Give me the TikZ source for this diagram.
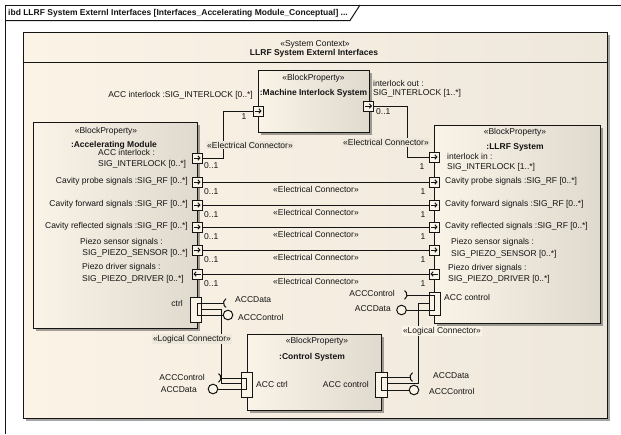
\documentclass[tikz,border=0pt]{standalone}
\usepackage{fontspec}
\setmainfont{Liberation Sans}
\usetikzlibrary{arrows.meta,shadows}
\definecolor{ctxA}{RGB}{251,243,230}
\definecolor{ctxB}{RGB}{238,231,219}
\definecolor{blkA}{RGB}{250,243,231}
\definecolor{blkB}{RGB}{224,217,206}
\definecolor{portfill}{RGB}{250,244,232}
\definecolor{ln}{RGB}{20,20,20}
\definecolor{txt}{RGB}{20,20,20}
\begin{document}
\begin{tikzpicture}[x=1pt,y=-1pt,
  every node/.style={inner sep=0pt,text=txt,font=\fontsize{8.5}{10}\selectfont},
  bold/.style={font=\fontsize{8.5}{10}\selectfont\bfseries},
  block/.style={draw=ln,line width=1pt,left color=blkA,right color=blkB,
    drop shadow={shadow xshift=3pt,shadow yshift=-3pt,fill=black,opacity=0.35}},
  ctxbox/.style={draw=ln,line width=1pt,left color=ctxA,right color=ctxB,
    drop shadow={shadow xshift=3pt,shadow yshift=-3pt,fill=black,opacity=0.35}},
  portbase/.style={draw=ln,fill=portfill,line width=1pt,minimum width=10pt,minimum height=10pt},
  portR/.style={portbase,path picture={\draw[line width=1pt,-{Straight Barb[length=2pt,width=4.5pt]}]
     ([xshift=-3.5pt]path picture bounding box.center) -- ([xshift=3.5pt]path picture bounding box.center);}},
  portL/.style={portbase,path picture={\draw[line width=1pt,-{Straight Barb[length=2pt,width=4.5pt]}]
     ([xshift=3.5pt]path picture bounding box.center) -- ([xshift=-3.5pt]path picture bounding box.center);}},
  cport/.style={portbase,minimum width=11pt,minimum height=25pt},
  conn/.style={draw=ln,line width=1pt},
  lab/.style={fill=ctxB,inner sep=1pt}
]
\useasboundingbox (0,0) rectangle (621,434);
% frame
\draw[ln,line width=1pt] (5,434) |- (621,5);
\draw[ln,line width=1pt] (5,20.5) -- (350,20.5) -- (360,5);
\node[bold,anchor=west] (title) at (8,13.5) {ibd LLRF System Externl Interfaces [Interfaces\_Accelerating Module\_Conceptual] ...};
% system context
\node[ctxbox,minimum width=584pt,minimum height=386pt] (ctx) at (315,225) {};
\draw[ln,line width=1pt] (ctx.west |- 0,62) -- (ctx.east |- 0,62);
\node (ctxst) at (315,44) {«System Context»};
\node[bold] (ctxnm) at (314,53.5) {LLRF System Externl Interfaces};
% blocks
\node[block,minimum width=111pt,minimum height=62pt] (mis) at (313.5,101) {};
\node (misst) at (313.5,78) {«BlockProperty»};
\node[bold] (misnm) at (313.5,93) {:Machine Interlock System};
\node[block,minimum width=164pt,minimum height=206pt] (acc) at (115,225) {};
\node (accst) at (106,131) {«BlockProperty»};
\node[bold] (accnm) at (114,145) {:Accelerating Module};
\node[block,minimum width=166pt,minimum height=198pt] (llrf) at (517,224) {};
\node (llrfst) at (515,132.5) {«BlockProperty»};
\node[bold] (llrfnm) at (515,147) {:LLRF System};
\node[block,minimum width=134pt,minimum height=76pt] (cs) at (314,372) {};
\node (csst) at (317,341) {«BlockProperty»};
\node[bold] (csnm) at (312,357) {:Control System};
% ports
\node[portR] (pmL) at (258,111) {};
\node[portR] (pmR) at (368.5,106) {};
\node[portR] (pa0) at (197,158) {};
\node[portR] (pa1) at (197,182) {};
\node[portR] (pa2) at (197,205) {};
\node[portR] (pa3) at (197,227) {};
\node[portR] (pa4) at (197,250) {};
\node[portL] (pa5) at (197,274) {};
\node[portR] (pl0) at (434,157) {};
\node[portR] (pl1) at (434,182) {};
\node[portR] (pl2) at (434,205) {};
\node[portR] (pl3) at (434,227) {};
\node[portR] (pl4) at (434,250) {};
\node[portL] (pl5) at (434,274) {};
\node[cport] (pctrl) at (195.5,309.5) {};
\node[cport,minimum height=23pt] (pllc) at (434.5,303.5) {};
\node[cport] (pcsL) at (246.5,385) {};
\node[cport,minimum width=12pt] (pcsR) at (381,385) {};
% port labels
\node[anchor=east] (tacc) at (253,95) {ACC interlock :SIG\_INTERLOCK [0..*]};
\node[anchor=west] (tio1) at (373,83) {interlock out :};
\node[anchor=west] (tio2) at (373,93) {SIG\_INTERLOCK [1..*]};
\node[anchor=west] (tai1) at (98,152.5) {ACC interlock :};
\node[anchor=west] (tai2) at (98,164) {SIG\_INTERLOCK [0..*]};
\node[anchor=east] (ta1) at (188,181) {Cavity probe signals :SIG\_RF [0..*]};
\node[anchor=east] (ta2) at (188,204.5) {Cavity forward signals :SIG\_RF [0..*]};
\node[anchor=east] (ta3) at (188,226) {Cavity reflected signals :SIG\_RF [0..*]};
\node[anchor=west] (ta4a) at (80,242) {Piezo sensor signals :};
\node[anchor=east] (ta4b) at (188,253.5) {SIG\_PIEZO\_SENSOR [0..*]};
\node[anchor=west] (ta5a) at (82,267) {Piezo driver signals :};
\node[anchor=west] (ta5b) at (82,279) {SIG\_PIEZO\_DRIVER [0..*]};
\node[anchor=east] (tctrl) at (183,303) {ctrl};
\node[anchor=west] (tli1) at (447,156.5) {interlock in :};
\node[anchor=west] (tli2) at (447,167) {SIG\_INTERLOCK [1..*]};
\node[anchor=west] (tl1) at (445,181) {Cavity probe signals :SIG\_RF [0..*]};
\node[anchor=west] (tl2) at (445,204.5) {Cavity forward signals :SIG\_RF [0..*]};
\node[anchor=west] (tl3) at (445,226) {Cavity reflected signals :SIG\_RF [0..*]};
\node[anchor=west] (tl4a) at (451,242) {Piezo sensor signals :};
\node[anchor=west] (tl4b) at (451,254) {SIG\_PIEZO\_SENSOR [0..*]};
\node[anchor=west] (tl5a) at (448,268) {Piezo driver signals :};
\node[anchor=west] (tl5b) at (448,279) {SIG\_PIEZO\_DRIVER [0..*]};
\node[anchor=west] (tllc) at (444,297) {ACC control};
\node[anchor=west] (tcsl) at (256,384) {ACC ctrl};
\node[anchor=east] (tcsr) at (369,384) {ACC control};
% electrical connectors
\draw[conn] (pa0.east) -- ++(21,0) |- (pmL.west);
\draw[conn] (pmR.east) -- ++(33.5,0) |- (pl0.west);
\foreach \i in {1,...,5} {\draw[conn] (pa\i.east) -- (pl\i.west);}
\node[lab] (ec0) at (250,145) {«Electrical Connector»};
\node[lab] (ec6) at (386,142.5) {«Electrical Connector»};
\foreach \i/\y in {1/182,2/205,3/227,4/250,5/274} {
  \node (ec\i) at (316,\y+7) {«Electrical Connector»};
  \node[anchor=west] (m\i) at (204,\y+10) {0..1};
  \node (n\i) at (423,\y+10) {1};
}
\node[anchor=west] (m0) at (204,165.5) {0..1};
\node (n0) at (244,117) {1};
\node[anchor=west] (m6) at (376,112) {0..1};
\node (n6) at (422,167) {1};
% interfaces at ctrl port
\draw[conn] (228.5,303) ++(120:5pt) arc[start angle=120,end angle=240,radius=5pt];
\draw[conn] (201,303) -- (223.5,303);
\draw[conn] (201,315) -- (223.2,315);
\draw[conn] (197,303) -- (201,303) (197,303) -- (197,315) -- (201,315);
\draw[conn,fill=portfill] (228,315) circle[radius=4.8pt];
\node[anchor=west] (t1) at (235,300) {ACCData};
\node[anchor=west] (t2) at (238,317) {ACCControl};
% interfaces at LLRF ACC control
\draw[conn] (402,295) ++(-60:5pt) arc[start angle=-60,end angle=60,radius=5pt];
\draw[conn] (407,295) -- (434.5,295) -- (434.5,310) -- (406.3,310);
\draw[conn,fill=portfill] (401.5,310) circle[radius=4.8pt];
\node[anchor=east] (t3) at (395,293) {ACCControl};
\node[anchor=east] (t4) at (391,309) {ACCData};
% interfaces at control system ACC ctrl
\draw[conn] (216,378) ++(-60:5pt) arc[start angle=-60,end angle=60,radius=5pt];
\draw[conn] (221,378) -- (246.5,378) -- (246.5,389) -- (217.8,389);
\draw[conn,fill=portfill] (213,389) circle[radius=4.8pt];
\node[anchor=east] (t5) at (205,377) {ACCControl};
\node[anchor=east] (t6) at (197,389.5) {ACCData};
% interfaces at control system ACC control
\draw[conn] (415,377) ++(120:5pt) arc[start angle=120,end angle=240,radius=5pt];
\draw[conn] (410,377) -- (381,377) -- (381,390) -- (409.2,390);
\draw[conn,fill=portfill] (414,390) circle[radius=4.8pt];
\node[anchor=west] (t7) at (433,376) {ACCData};
\node[anchor=west] (t8) at (429,391) {ACCControl};
% logical connectors
\draw[conn] (pctrl.east) -- (221,309.5) |- ([yshift=2pt]pcsL.west);
\draw[conn] (pllc.west) -- (418,303.5) |- ([yshift=2pt]pcsR.east);
\node[lab] (lc1) at (192,339) {«Logical Connector»};
\node[lab,fill=portfill] (lc2) at (442,331) {«Logical Connector»};
\end{tikzpicture}
\end{document}
